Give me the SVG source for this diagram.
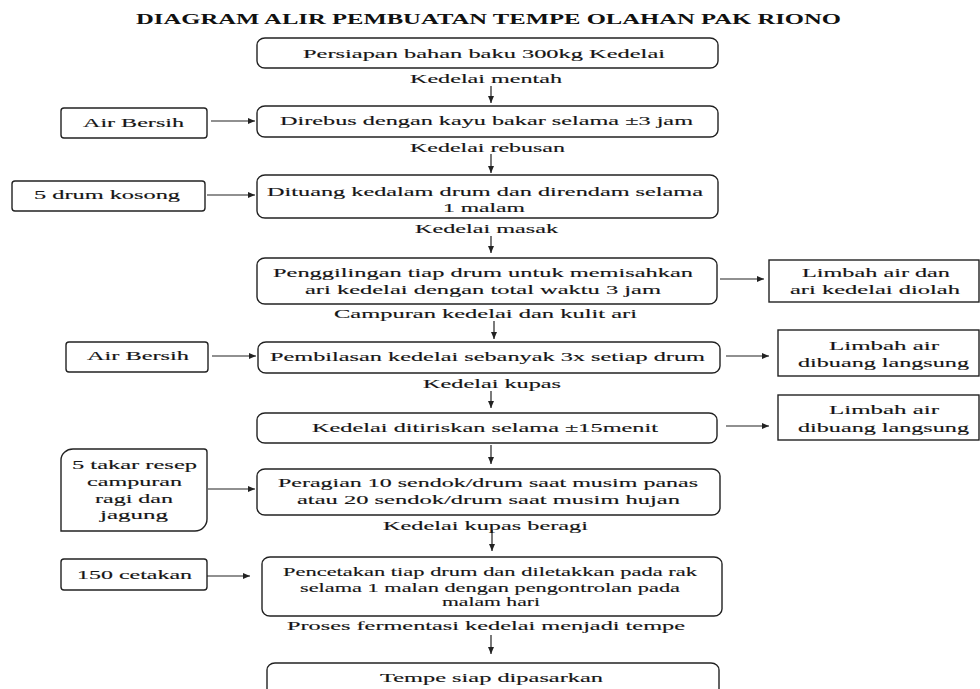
<svg xmlns="http://www.w3.org/2000/svg" width="980" height="689" viewBox="0 0 980 689">
<style>
  .bg { fill: #ffffff; }
  .box { fill: #ffffff; stroke: #222222; stroke-width: 1.4; }
  .t { font-family: "Liberation Serif", "Times New Roman", serif; font-size: 13.5px; fill: #151515; stroke: #151515; stroke-width: 0.15; }
  .title { font-family: "Liberation Serif", "Times New Roman", serif; font-size: 14.5px; font-weight: bold; fill: #111111; }
  .conn line { stroke: #222222; stroke-width: 1.2; fill: none; marker-end: url(#arr); }
</style>
<defs>
  <marker id="arr" markerUnits="userSpaceOnUse" markerWidth="8" markerHeight="7" refX="7" refY="3" orient="auto">
    <path d="M0,0 L7,3 L0,6 Z" fill="#222222"/>
  </marker>
</defs>
<rect class="bg" x="0" y="0" width="980" height="689"/>

<text class="title" x="136" y="24" textLength="705" lengthAdjust="spacingAndGlyphs">DIAGRAM ALIR PEMBUATAN TEMPE OLAHAN PAK RIONO</text>

<g id="connectors" class="conn">
  <line x1="491" y1="86" x2="491" y2="103"/>
  <line x1="491" y1="154" x2="491" y2="173"/>
  <line x1="491" y1="236" x2="491" y2="253"/>
  <line x1="494" y1="321" x2="494" y2="339"/>
  <line x1="491" y1="391" x2="491" y2="408"/>
  <line x1="491" y1="445" x2="491" y2="464"/>
  <line x1="492" y1="530" x2="492" y2="551"/>
  <line x1="491" y1="635" x2="491" y2="654"/>
  <line x1="211" y1="121" x2="255" y2="121"/>
  <line x1="207" y1="195" x2="255" y2="195"/>
  <line x1="212" y1="356" x2="256" y2="356"/>
  <line x1="208" y1="489" x2="255" y2="489"/>
  <line x1="207" y1="576" x2="250" y2="576"/>
  <line x1="720" y1="279" x2="764" y2="279"/>
  <line x1="726" y1="356" x2="769" y2="356"/>
  <line x1="726" y1="426" x2="769" y2="426"/>
</g>

<g id="step1">
  <rect class="box" x="257" y="38" width="461" height="30" rx="8" ry="7"/>
  <text class="t" x="303" y="58" textLength="362" lengthAdjust="spacingAndGlyphs">Persiapan bahan baku 300kg Kedelai</text>
</g>
<g id="label1"><text class="t" x="410" y="83" textLength="152" lengthAdjust="spacingAndGlyphs">Kedelai mentah</text></g>

<g id="step2">
  <rect class="box" x="257" y="106" width="461" height="31" rx="8" ry="7"/>
  <text class="t" x="280" y="125" textLength="413" lengthAdjust="spacingAndGlyphs">Direbus dengan kayu bakar selama ±3 jam</text>
</g>
<g id="in1">
  <rect class="box" x="61" y="108" width="146" height="30" rx="3" ry="3"/>
  <text class="t" x="83" y="127" textLength="101" lengthAdjust="spacingAndGlyphs">Air Bersih</text>
</g>
<g id="label2"><text class="t" x="410" y="152" textLength="155" lengthAdjust="spacingAndGlyphs">Kedelai rebusan</text></g>

<g id="step3">
  <rect class="box" x="257" y="175" width="461" height="43" rx="8" ry="7"/>
  <text class="t" x="267" y="196" textLength="436" lengthAdjust="spacingAndGlyphs">Dituang kedalam drum dan direndam selama</text>
  <text class="t" x="443" y="212" textLength="82" lengthAdjust="spacingAndGlyphs">1 malam</text>
</g>
<g id="in2">
  <rect class="box" x="12" y="181" width="193" height="30" rx="3" ry="3"/>
  <text class="t" x="34" y="199" textLength="146" lengthAdjust="spacingAndGlyphs">5 drum kosong</text>
</g>
<g id="label3"><text class="t" x="415" y="233" textLength="143" lengthAdjust="spacingAndGlyphs">Kedelai masak</text></g>

<g id="step4">
  <rect class="box" x="257" y="258" width="460" height="46" rx="8" ry="7"/>
  <text class="t" x="273" y="277" textLength="420" lengthAdjust="spacingAndGlyphs">Penggilingan tiap drum untuk memisahkan</text>
  <text class="t" x="305" y="294" textLength="356" lengthAdjust="spacingAndGlyphs">ari kedelai dengan total waktu 3 jam</text>
</g>
<g id="out1">
  <rect class="box" x="769" y="260" width="210" height="42"/>
  <text class="t" x="802" y="277" textLength="148" lengthAdjust="spacingAndGlyphs">Limbah air dan</text>
  <text class="t" x="790" y="294" textLength="170" lengthAdjust="spacingAndGlyphs">ari kedelai diolah</text>
</g>
<g id="label4"><text class="t" x="334" y="318" textLength="303" lengthAdjust="spacingAndGlyphs">Campuran kedelai dan kulit ari</text></g>

<g id="step5">
  <rect class="box" x="258" y="342" width="462" height="31" rx="8" ry="7"/>
  <text class="t" x="270" y="361" textLength="435" lengthAdjust="spacingAndGlyphs">Pembilasan kedelai sebanyak 3x setiap drum</text>
</g>
<g id="in3">
  <rect class="box" x="66" y="342" width="142" height="30" rx="3" ry="3"/>
  <text class="t" x="87" y="360" textLength="102" lengthAdjust="spacingAndGlyphs">Air Bersih</text>
</g>
<g id="out2">
  <rect class="box" x="778" y="330" width="201" height="46"/>
  <text class="t" x="829" y="350" textLength="110" lengthAdjust="spacingAndGlyphs">Limbah air</text>
  <text class="t" x="798" y="367" textLength="171" lengthAdjust="spacingAndGlyphs">dibuang langsung</text>
</g>
<g id="label5"><text class="t" x="423" y="388" textLength="138" lengthAdjust="spacingAndGlyphs">Kedelai kupas</text></g>

<g id="step6">
  <rect class="box" x="257" y="413" width="460" height="30" rx="8" ry="7"/>
  <text class="t" x="312" y="432" textLength="346" lengthAdjust="spacingAndGlyphs">Kedelai ditiriskan selama ±15menit</text>
</g>
<g id="out3">
  <rect class="box" x="778" y="395" width="201" height="45"/>
  <text class="t" x="829" y="414" textLength="110" lengthAdjust="spacingAndGlyphs">Limbah air</text>
  <text class="t" x="798" y="432" textLength="171" lengthAdjust="spacingAndGlyphs">dibuang langsung</text>
</g>

<g id="step7">
  <rect class="box" x="257" y="469" width="463" height="46" rx="8" ry="7"/>
  <text class="t" x="278" y="487" textLength="420" lengthAdjust="spacingAndGlyphs">Peragian 10 sendok/drum saat musim panas</text>
  <text class="t" x="297" y="504" textLength="383" lengthAdjust="spacingAndGlyphs">atau 20 sendok/drum saat musim hujan</text>
</g>
<g id="in4">
  <path class="box" d="M73,449 L204,449 Q207,449 207,452 L207,519 A12 12 0 0 1 195,531 L61,531 L61,460 A12 11 0 0 1 73,449 Z"/>
  <text class="t" x="72" y="469" textLength="125" lengthAdjust="spacingAndGlyphs">5 takar resep</text>
  <text class="t" x="87" y="486" textLength="95" lengthAdjust="spacingAndGlyphs">campuran</text>
  <text class="t" x="95" y="503" textLength="78" lengthAdjust="spacingAndGlyphs">ragi dan</text>
  <text class="t" x="100" y="519" textLength="68" lengthAdjust="spacingAndGlyphs">jagung</text>
</g>
<g id="label6"><text class="t" x="383" y="530" textLength="205" lengthAdjust="spacingAndGlyphs">Kedelai kupas beragi</text></g>

<g id="step8">
  <rect class="box" x="262" y="557" width="460" height="59" rx="8" ry="7"/>
  <text class="t" x="283" y="576" textLength="414" lengthAdjust="spacingAndGlyphs">Pencetakan tiap drum dan diletakkan pada rak</text>
  <text class="t" x="300" y="592" textLength="380" lengthAdjust="spacingAndGlyphs">selama 1 malan dengan pengontrolan pada</text>
  <text class="t" x="442" y="606" textLength="98" lengthAdjust="spacingAndGlyphs">malam hari</text>
</g>
<g id="in5">
  <rect class="box" x="61" y="559" width="146" height="31" rx="3" ry="3"/>
  <text class="t" x="77" y="579" textLength="115" lengthAdjust="spacingAndGlyphs">150 cetakan</text>
</g>
<g id="label7"><text class="t" x="287" y="630" textLength="398" lengthAdjust="spacingAndGlyphs">Proses fermentasi kedelai menjadi tempe</text></g>

<g id="step9">
  <rect class="box" x="267" y="663" width="452" height="40" rx="8" ry="7"/>
  <text class="t" x="380" y="682" textLength="223" lengthAdjust="spacingAndGlyphs">Tempe siap dipasarkan</text>
</g>
</svg>
